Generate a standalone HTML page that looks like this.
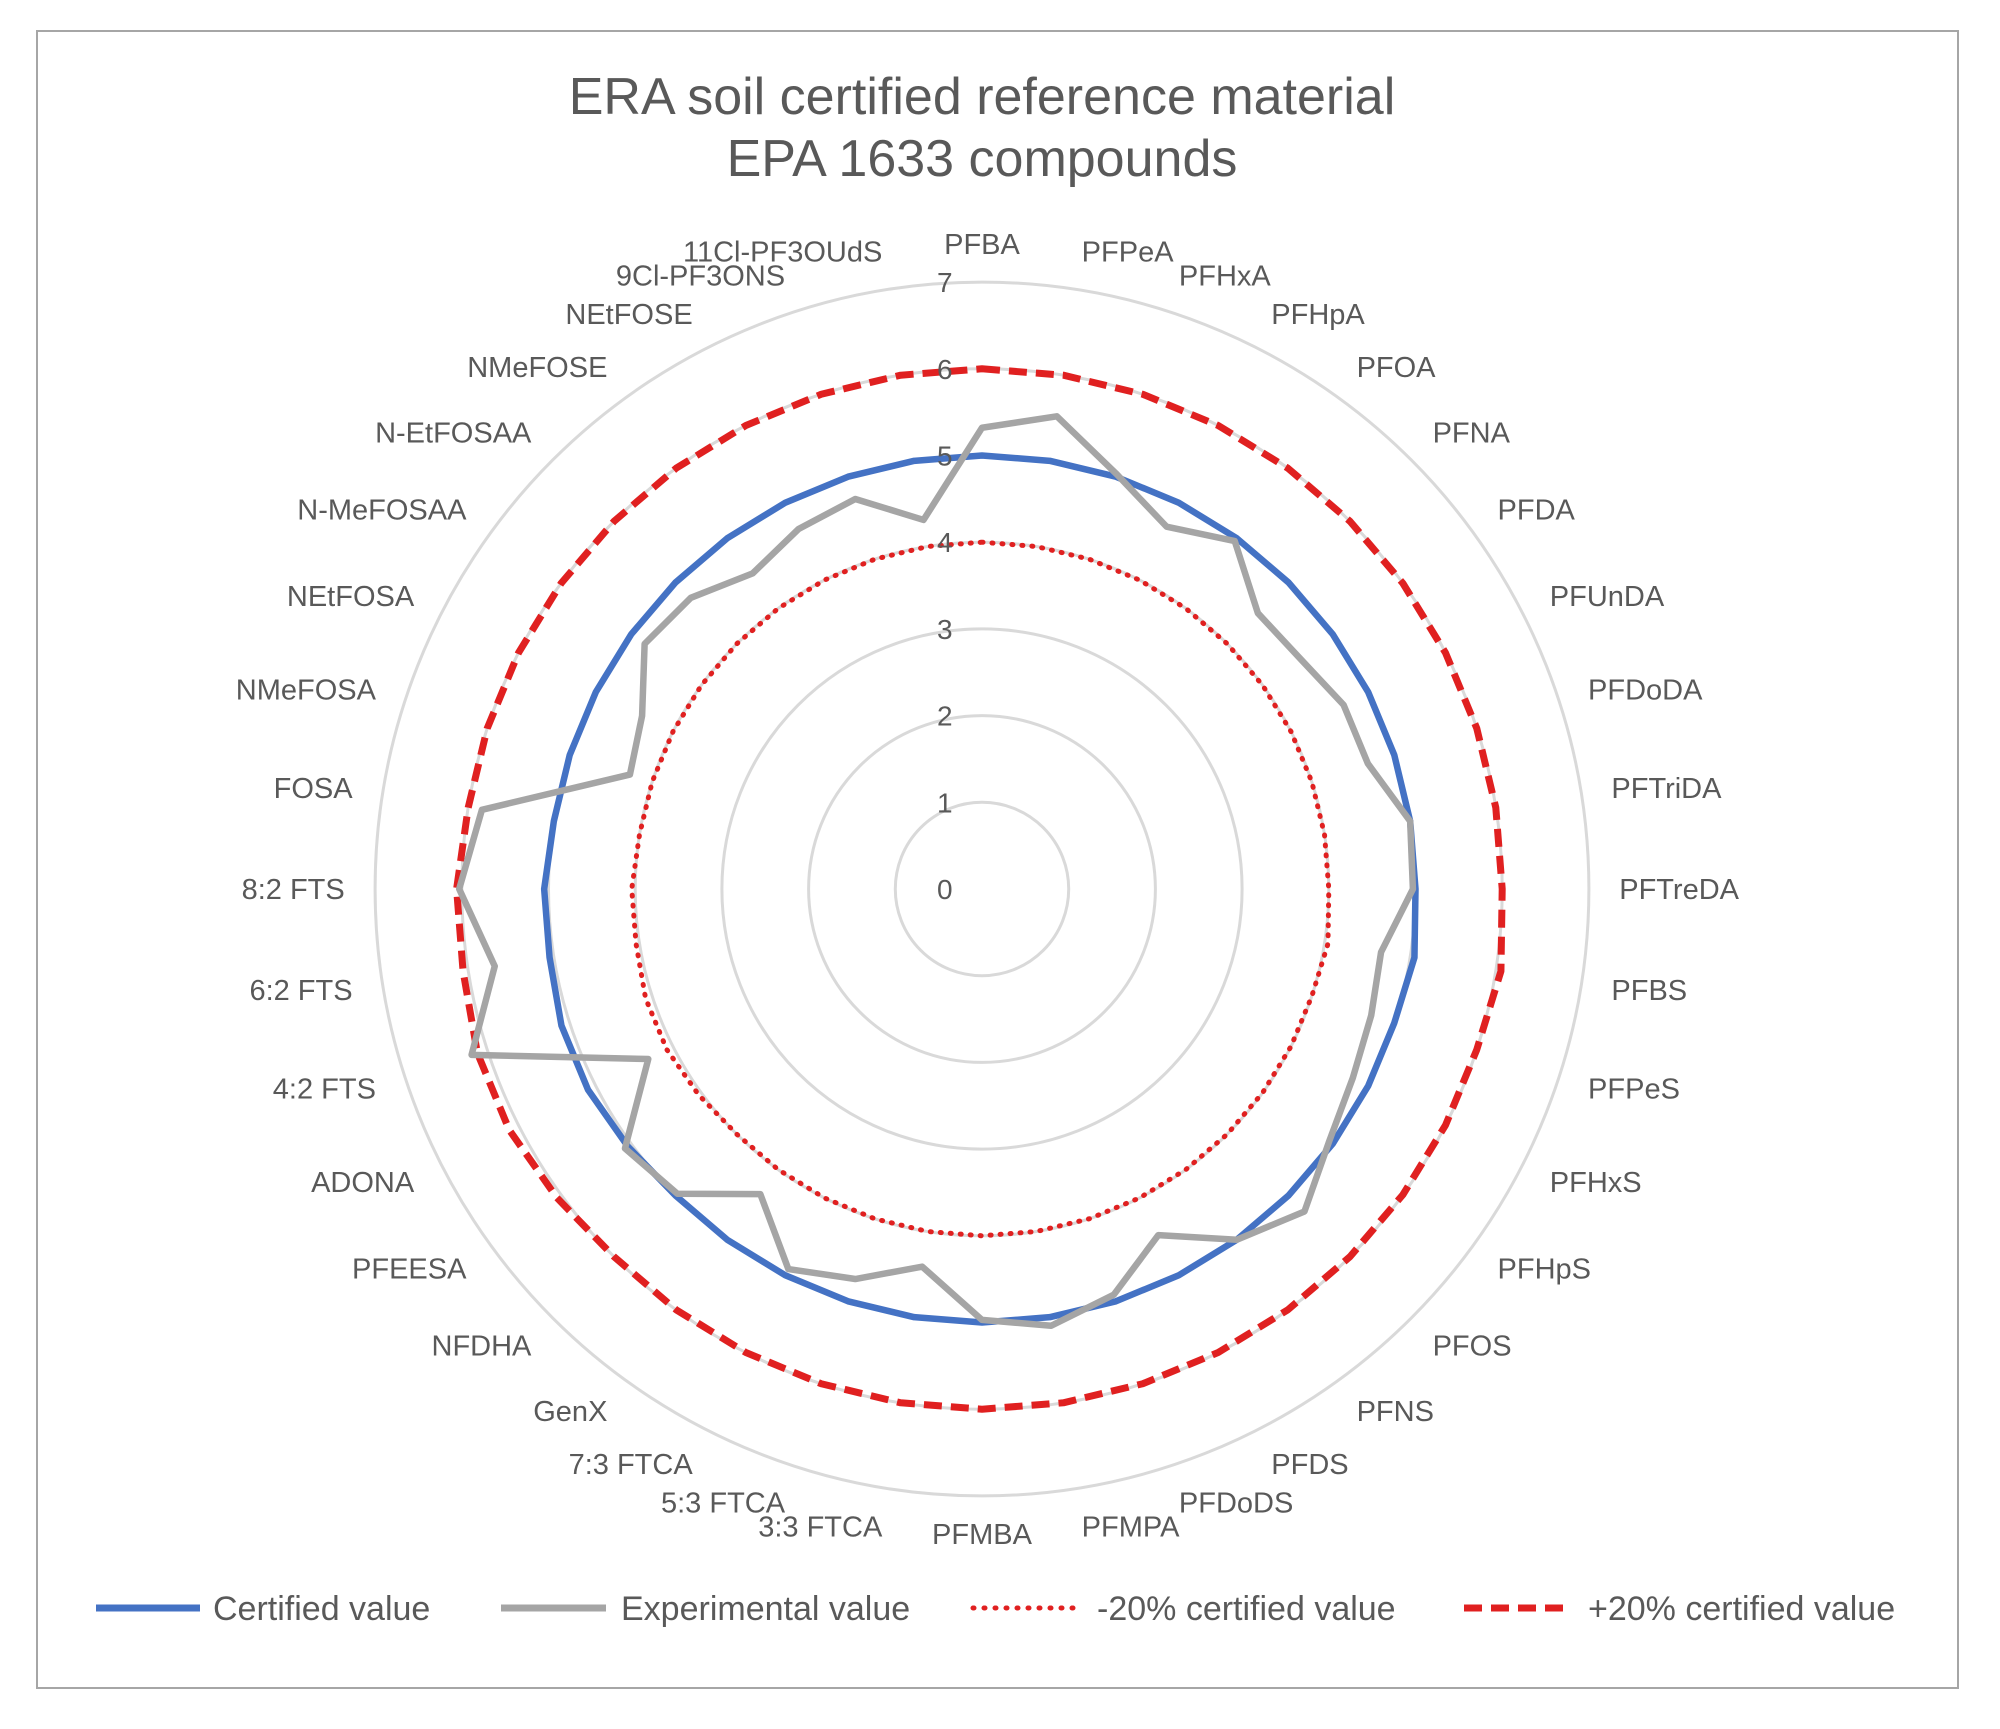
<!DOCTYPE html>
<html><head><meta charset="utf-8"><style>
body{margin:0;background:#fff}
svg text{font-family:"Liberation Sans",sans-serif}
</style></head><body>
<svg id="chart" width="2000" height="1724" viewBox="0 0 2000 1724" xmlns="http://www.w3.org/2000/svg">
<rect x="37" y="31" width="1921" height="1657" fill="#fff" stroke="#a6a6a6" stroke-width="2"/>
<text x="982" y="114" text-anchor="middle" font-size="52" fill="#595959">ERA soil certified reference material</text>
<text x="982" y="176" text-anchor="middle" font-size="52" fill="#595959">EPA 1633 compounds</text>
<g id="grid"></g><g id="labels"></g><g id="series"></g><g id="ticks"></g>
<g font-size="34" fill="#595959">
<g><line x1="96" y1="1608" x2="200" y2="1608" stroke="#4472c4" stroke-width="7"/><text x="213" y="1620">Certified value</text></g>
<g><line x1="501" y1="1608" x2="606" y2="1608" stroke="#a5a5a5" stroke-width="7"/><text x="621" y="1620">Experimental value</text></g>
<g><line x1="973" y1="1608" x2="1078" y2="1608" stroke="#e02020" stroke-width="5" stroke-dasharray="1 10" stroke-linecap="round"/><text x="1097" y="1620">-20% certified value</text></g>
<g><line x1="1464" y1="1608" x2="1569" y2="1608" stroke="#e02020" stroke-width="7" stroke-dasharray="18 9"/><text x="1588" y="1620">+20% certified value</text></g>
</g>
</svg>
<script>
const categories=["PFBA","PFPeA","PFHxA","PFHpA","PFOA","PFNA","PFDA","PFUnDA","PFDoDA","PFTriDA","PFTreDA","PFBS","PFPeS","PFHxS","PFHpS","PFOS","PFNS","PFDS","PFDoDS","PFMPA","PFMBA","3:3 FTCA","5:3 FTCA","7:3 FTCA","GenX","NFDHA","PFEESA","ADONA","4:2 FTS","6:2 FTS","8:2 FTS","FOSA","NMeFOSA","NEtFOSA","N-MeFOSAA","N-EtFOSAA","NMeFOSE","NEtFOSE","9Cl-PF3ONS","11Cl-PF3OUdS"];
const certified=[5,5,5,5,5,5,5,5,5,5,5,5.05,5,5,5,5,5,5,5,5,5,5,5,5,5,5,5.05,5.1,5.1,5.05,5.05,5,5,5,5,5,5,5,5,5];
const experimental=[5.32,5.52,5.03,4.69,4.96,4.5,4.53,4.68,4.68,5.0,4.97,4.66,4.72,4.8,4.95,5.26,5.0,4.48,4.92,5.1,4.97,4.41,4.73,4.92,4.35,4.97,5.09,4.32,6.19,5.69,6.03,5.84,4.27,4.4,4.81,4.75,4.5,4.66,4.73,4.31];
const minus20=[4,4,4,4,4,4,4,4,4,4,4,4.04,4,4,4,4,4,4,4,4,4,4,4,4,4,4,4.04,4.08,4.08,4.04,4.04,4,4,4,4,4,4,4,4,4];
const plus20=[6,6,6,6,6,6,6,6,6,6,6,6.06,6,6,6,6,6,6,6,6,6,6,6,6,6,6,6.06,6.12,6.12,6.06,6.06,6,6,6,6,6,6,6,6,6];
const tickLabels=["0","1","2","3","4","5","6","7"];
const CX=982,CY=889,U=86.7,N=categories.length;
const NS="http://www.w3.org/2000/svg";
function ang(i){return i*2*Math.PI/N;}
function px(i,v){return CX+v*U*Math.sin(ang(i));}
function py(i,v){return CY-v*U*Math.cos(ang(i));}
function mk(t,a,p){const e=document.createElementNS(NS,t);for(const k in a)e.setAttribute(k,a[k]);p.appendChild(e);return e;}
const grid=document.getElementById('grid');
for(let k=1;k<tickLabels.length;k++){
 const g=mk('circle',{cx:CX,cy:CY,r:k*U,fill:"none",stroke:"#d9d9d9","stroke-width":3},grid);
 
 
}
const lab=document.getElementById('labels');
categories.forEach((c,i)=>{
 const s=Math.sin(ang(i)),co=Math.cos(ang(i));
 const r=7.35;
 const t=mk('text',{x:px(i,r),y:py(i,r)+10-co*8,"font-size":29,fill:"#595959","text-anchor":s>0.05?"start":(s<-0.05?"end":"middle")},lab);
 t.textContent=c;
 
 
});
const ser=document.getElementById('series');
function poly(vals,st,name){
 const pts=vals.map((v,i)=>px(i,v)+","+py(i,v)).join(" ");
 const p=mk('polygon',Object.assign({points:pts,fill:"none","stroke-linejoin":"round"},st),ser);
 
 
}
poly(minus20,{stroke:"#e02020","stroke-width":5,"stroke-dasharray":"1 9","stroke-linecap":"round"},'series-minus20');
poly(plus20,{stroke:"#e02020","stroke-width":7,"stroke-dasharray":"18 9"},'series-plus20');
poly(certified,{stroke:"#4472c4","stroke-width":6.5},'series-certified');
poly(experimental,{stroke:"#a5a5a5","stroke-width":6.5},'series-experimental');
const tk=document.getElementById('ticks');
tickLabels.forEach((t,k)=>{
 const e=mk('text',{x:CX-45,y:CY-k*U+10,"font-size":28,fill:"#595959"},tk);
 e.textContent=t;
 
 
});
</script>
</body></html>
